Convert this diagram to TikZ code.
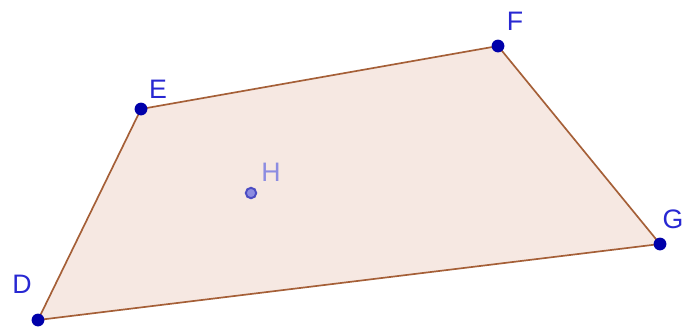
\documentclass[tikz,border=0pt]{standalone}
\usepackage{fontspec}
\setmainfont{Liberation Sans}
\usetikzlibrary{positioning}
\definecolor{ptblue}{RGB}{0,0,170}
\definecolor{lblblue}{RGB}{40,40,210}
\definecolor{hblue}{RGB}{140,140,225}
\definecolor{edgebrown}{RGB}{165,95,55}
\definecolor{fillpink}{RGB}{246,232,226}

\begin{document}
\begin{tikzpicture}[x=0.025cm, y=-0.025cm, font=\fontsize{19}{22}\selectfont,
  pt/.style={circle, fill=ptblue, inner sep=0pt, minimum size=0.32cm},
  lbl/.style={text=lblblue, inner sep=0pt}]
\useasboundingbox (0,0) rectangle (685,331);
\coordinate (D) at (38,320);
\coordinate (E) at (141,109);
\coordinate (F) at (498,46);
\coordinate (G) at (660,244);
\coordinate (H) at (251,193);
\filldraw[fill=fillpink, draw=edgebrown, line width=1.2pt] (D) -- (E) -- (F) -- (G) -- cycle;
\foreach \p in {D,E,F,G}{
  \node[pt] (dot\p) at (\p) {};
}
\node[circle, fill=hblue, draw=ptblue!70, line width=1.4pt, inner sep=0pt, minimum size=0.26cm] (dotH) at (H) {};
\node[lbl] (lD) at (22,284) {D};
\node[lbl] (lE) at (158,89) {E};
\node[lbl] (lF) at (515,21) {F};
\node[lbl] (lG) at (673,219) {G};
\node[lbl, text=hblue] (lH) at (271,172) {H};
\end{tikzpicture}
\end{document}
